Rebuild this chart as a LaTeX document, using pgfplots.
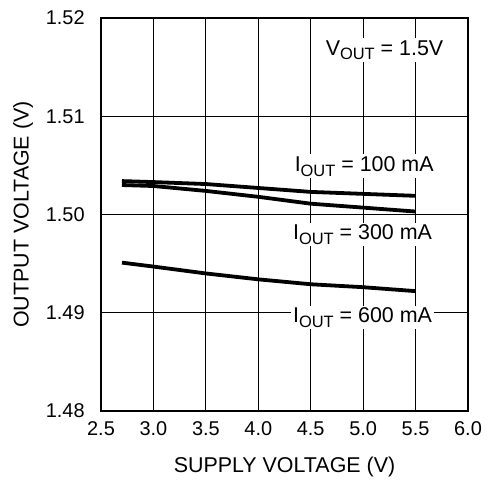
\documentclass[border=0pt]{standalone}
\usepackage{fontspec}
\setmainfont{Liberation Sans}
\usepackage{pgfplots}
\pgfplotsset{compat=1.18}
\usetikzlibrary{calc}
\newcommand{\sub}[1]{\raisebox{-0.42ex}{\fontsize{16.5}{17}\selectfont #1}}
\begin{document}
\fontsize{21.5}{23}\selectfont
\begin{tikzpicture}
\begin{axis}[
  scale only axis,
  width=367bp, height=393bp,
  xmin=2.5, xmax=6.0, ymin=1.48, ymax=1.52,
  xtick={2.5,3.0,...,6.0},
  ytick={1.48,1.49,1.50,1.51,1.52},
  xticklabel style={/pgf/number format/fixed,/pgf/number format/fixed zerofill,/pgf/number format/precision=1, yshift=-3bp},
  yticklabel style={/pgf/number format/fixed,/pgf/number format/fixed zerofill,/pgf/number format/precision=2, xshift=-9bp},
  /pgf/number format/assume math mode=true,
  scaled y ticks=false,
  major tick length=0pt,
  grid=major,
  grid style={black, line width=1.2bp},
  axis line style={black, line width=1.4bp},
  tick label style={font=\fontsize{20}{22}\selectfont},
  label style={font=\fontsize{21.5}{23}\selectfont},
  xlabel={SUPPLY VOLTAGE (V)},
  ylabel={OUTPUT VOLTAGE (V)},
  every axis x label/.style={at={(axis description cs:0.5,-0.1425)}, anchor=center},
  every axis y label/.style={at={(axis description cs:-0.2125,0.5)}, rotate=90, anchor=center},
]
\addplot[black, line width=3.8bp, no marks] coordinates {(2.7,1.5034) (3.0,1.5033) (3.5,1.5031) (4.0,1.5027) (4.5,1.5023) (5.0,1.5021) (5.5,1.5019)};
\addplot[black, line width=3.8bp, no marks] coordinates {(2.7,1.5030) (3.0,1.5029) (3.5,1.5024) (4.0,1.5018) (4.5,1.5011) (5.0,1.5007) (5.5,1.5003)};
\addplot[black, line width=3.8bp, no marks] coordinates {(2.7,1.4951) (3.0,1.4947) (3.5,1.4940) (4.0,1.4934) (4.5,1.4929) (5.0,1.4926) (5.5,1.4922)};
\node[fill=white, inner sep=2bp, anchor=base] at (axis cs:5.204,1.51622) {V\sub{OUT} = 1.5V};
\node[fill=white, inner sep=2bp, anchor=base] at (axis cs:5.01,1.50439) {I\sub{OUT} = 100 mA};
\node[fill=white, inner sep=2bp, anchor=base] at (axis cs:4.994,1.49745) {I\sub{OUT} = 300 mA};
\node[fill=white, inner sep=2bp, anchor=base] at (axis cs:4.994,1.48901) {I\sub{OUT} = 600 mA};
\coordinate (sw) at (rel axis cs:0,0);
\end{axis}
\useasboundingbox ($(sw)+(-101bp,-70bp)$) rectangle ++(492bp,481bp);
\end{tikzpicture}
\end{document}
